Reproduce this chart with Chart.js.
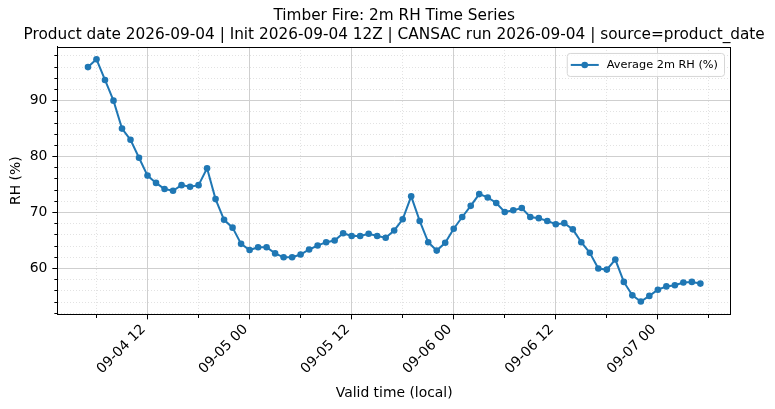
<!DOCTYPE html>
<html lang="en">
<head>
<meta charset="UTF-8">
<title>Timber Fire: 2m RH Time Series</title>
<script src="https://cdn.jsdelivr.net/npm/chart.js"></script>
<style>
  html, body { margin: 0; padding: 0; background: #fff; }
  #wrap { width: 775px; height: 409px; }
</style>
</head>
<body>
<div id="wrap"><canvas id="rh-chart"></canvas></div>
<script>
// hourly valid times start at 09-04 05:00 local (hours counted from 09-04 00:00)
const firstHour = 5;
const rhValues = [
  96.0, 97.4, 93.7, 90.0, 85.0, 83.0, 79.8, 76.6, 75.3, 74.2,
  73.9, 74.9, 74.6, 74.9, 77.9, 72.4, 68.7, 67.3, 64.4, 63.3,
  63.8, 63.8, 62.7, 62.0, 62.0, 62.5, 63.4, 64.1, 64.7, 65.0,
  66.3, 65.8, 65.8, 66.2, 65.8, 65.5, 66.8, 68.8, 72.9, 68.5,
  64.7, 63.2, 64.6, 67.1, 69.2, 71.2, 73.3, 72.7, 71.7, 70.1,
  70.4, 70.8, 69.2, 69.0, 68.5, 67.9, 68.1, 67.0, 64.7, 62.8,
  60.0, 59.8, 61.6, 57.6, 55.2, 54.1, 55.1, 56.2, 56.8, 57.0,
  57.5, 57.6, 57.3
];
const xTickHours = [12, 24, 36, 48, 60, 72];
const xTickLabels = ['09-04 12', '09-05 00', '09-05 12', '09-06 00', '09-06 12', '09-07 00'];
const yTickValues = [60, 70, 80, 90];

const titleLines = [
  'Timber Fire: 2m RH Time Series',
  'Product date 2026-09-04 | Init 2026-09-04 12Z | CANSAC run 2026-09-04 | source=product_date'
];
const seriesLabel = 'Average 2m RH (%)';

const blue = '#1f77b4';
const font = 'DejaVu Sans';

const points = rhValues.map((v, i) => ({ x: firstHour + i, y: v }));

// major vs minor helpers
const isMajorX = ctx => ctx.tick && xTickHours.includes(ctx.tick.value);
const isMajorY = ctx => ctx.tick && yTickValues.includes(ctx.tick.value);

// centre the title over the plot area instead of the canvas
const titleCenter = {
  id: 'titleCenter',
  afterLayout(chart) {
    const t = chart.titleBlock;
    const a = chart.chartArea;
    if (!t) return;
    const mid = (a.left + a.right) / 2;
    const half = Math.min(mid, chart.width - mid);
    t.left = mid - half;
    t.right = mid + half;
  }
};

// box around the axes (matplotlib style)
const framePlugin = {
  id: 'frame',
  afterDatasetsDraw(chart) {
    const { ctx, chartArea: a } = chart;
    ctx.save();
    ctx.strokeStyle = '#000';
    ctx.lineWidth = 1;
    ctx.strokeRect(Math.round(a.left) + 0.5, Math.round(a.top) + 0.5,
      Math.round(a.right - a.left) - 1, Math.round(a.bottom - a.top));
    ctx.restore();
  }
};

// legend inside the top right corner of the plot
const insideLegend = {
  id: 'insideLegend',
  afterDraw(chart) {
    const { ctx, chartArea: a } = chart;
    const ds = chart.data.datasets[0];
    ctx.save();
    ctx.font = '11.3px "' + font + '"';
    const tw = ctx.measureText(ds.label).width;
    const w = 4 + 28 + 8 + tw + 6;
    const h = 23;
    const x = a.right - 7 - w;
    const y = a.top + 6;
    ctx.beginPath();
    ctx.roundRect(x + 0.5, y + 0.5, w, h, 3);
    ctx.fillStyle = 'rgba(255,255,255,0.8)';
    ctx.fill();
    ctx.strokeStyle = '#d6d6d6';
    ctx.lineWidth = 1;
    ctx.stroke();
    const cy = y + h / 2 + 0.5;
    ctx.strokeStyle = ds.borderColor;
    ctx.lineWidth = 2;
    ctx.beginPath();
    ctx.moveTo(x + 4, cy);
    ctx.lineTo(x + 32, cy);
    ctx.stroke();
    ctx.fillStyle = ds.pointBackgroundColor;
    ctx.beginPath();
    ctx.arc(x + 18, cy, 3.3, 0, Math.PI * 2);
    ctx.fill();
    ctx.fillStyle = '#000';
    ctx.textBaseline = 'middle';
    ctx.fillText(ds.label, x + 40, cy);
    ctx.restore();
  }
};

new Chart(document.getElementById('rh-chart'), {
  type: 'line',
  data: {
    datasets: [{
      label: seriesLabel,
      data: points,
      borderColor: blue,
      backgroundColor: blue,
      pointBackgroundColor: blue,
      pointBorderColor: blue,
      borderWidth: 2,
      pointRadius: 3.3,
      pointBorderWidth: 0,
      tension: 0
    }]
  },
  options: {
    responsive: true,
    maintainAspectRatio: false,
    animation: false,
    layout: { padding: { left: 4, right: 44, top: 0, bottom: 7 } },
    plugins: {
      legend: { display: false },
      tooltip: { enabled: false },
      title: {
        display: true,
        fullSize: true,
        text: titleLines,
        color: '#000',
        font: { family: font, size: 15.3, weight: 'normal', lineHeight: 1.24 },
        padding: { top: 6.5, bottom: 2.5 }
      }
    },
    scales: {
      x: {
        type: 'linear',
        min: 1.4,
        max: 80.6,
        border: {
          color: '#000',
          dash: ctx => (ctx.tick && !isMajorX(ctx)) ? [1, 2] : []
        },
        grid: {
          color: ctx => isMajorX(ctx) ? '#cfcfcf' : '#e2e2e2',
          lineWidth: 1,
          tickColor: '#000',
          tickLength: 5,
          tickBorderDash: ctx => isMajorX(ctx) ? [] : [3, 100]
        },
        ticks: {
          stepSize: 6,
          includeBounds: false,
          autoSkip: false,
          minRotation: 45,
          maxRotation: 45,
          padding: 2,
          labelOffset: -4,
          color: '#000',
          font: { family: font, size: 13.9 },
          callback: v => {
            const k = xTickHours.indexOf(v);
            return k >= 0 ? xTickLabels[k] : '';
          }
        },
        title: {
          display: true,
          text: 'Valid time (local)',
          color: '#000',
          font: { family: font, size: 13.9 },
          padding: { top: 6, bottom: 0 }
        }
      },
      y: {
        min: 51.8,
        max: 99.6,
        border: {
          color: '#000',
          dash: ctx => (ctx.tick && !isMajorY(ctx)) ? [1, 2] : []
        },
        grid: {
          color: ctx => isMajorY(ctx) ? '#cfcfcf' : '#e2e2e2',
          lineWidth: 1,
          tickColor: '#000',
          tickLength: 5,
          tickBorderDash: ctx => isMajorY(ctx) ? [] : [0, 2, 3, 100]
        },
        ticks: {
          stepSize: 2,
          includeBounds: false,
          autoSkip: false,
          padding: 5,
          color: '#000',
          font: { family: font, size: 13.9 },
          callback: v => yTickValues.includes(v) ? String(v) : ''
        },
        title: {
          display: true,
          text: 'RH (%)',
          color: '#000',
          font: { family: font, size: 13.9 },
          padding: { top: 4, bottom: 0 }
        }
      }
    }
  },
  plugins: [titleCenter, framePlugin, insideLegend]
});
</script>
</body>
</html>
